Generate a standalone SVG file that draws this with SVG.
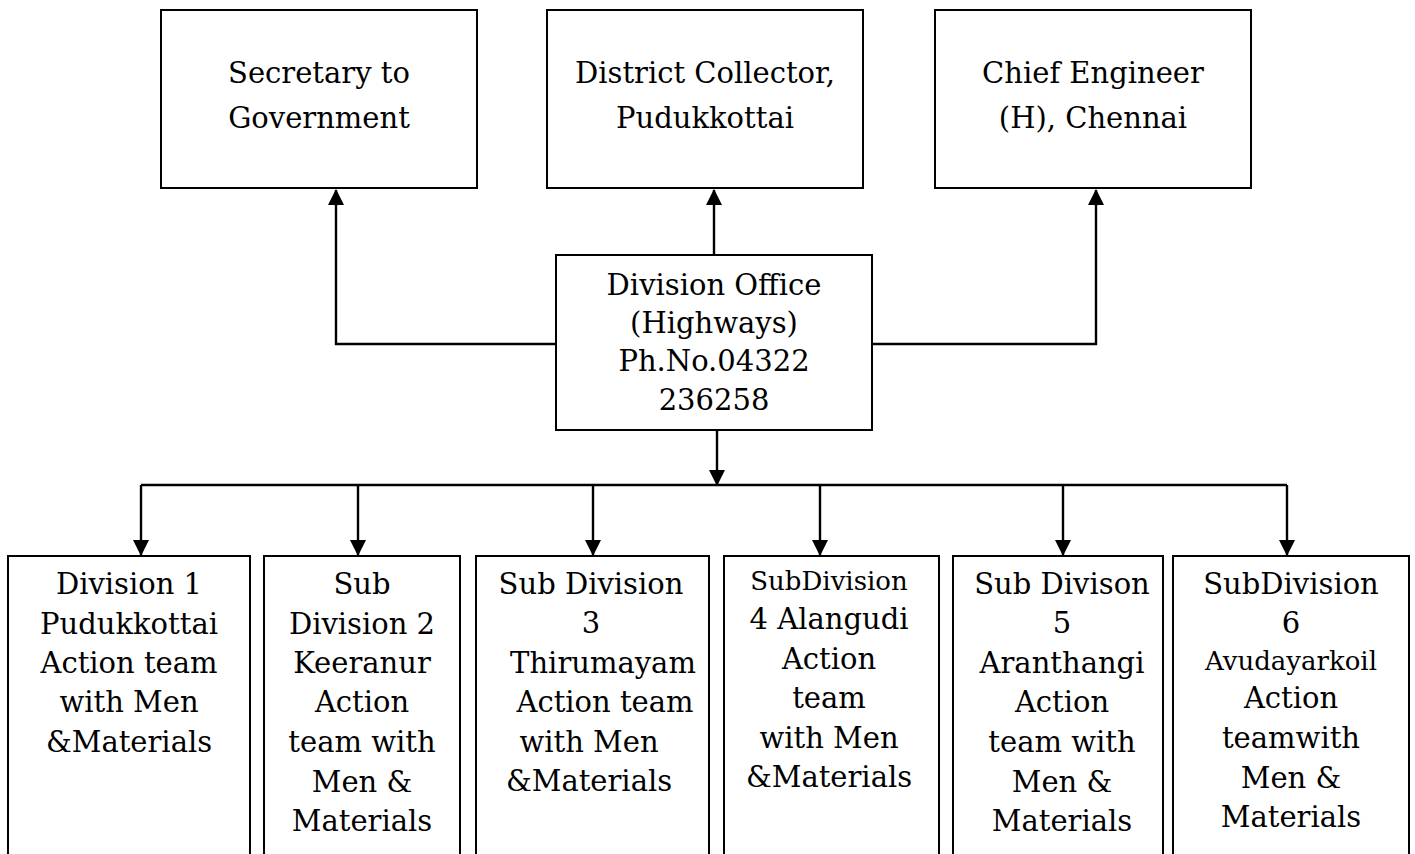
<svg xmlns="http://www.w3.org/2000/svg" width="1415" height="854" viewBox="0 0 1415 854">
<style>
.box{fill:#fff;stroke:#000;stroke-width:2}
.t{font-family:"DejaVu Serif","Liberation Serif",serif;font-size:29px;fill:#000;text-anchor:middle}
.s{font-size:26px}
.c{fill:none;stroke:#000;stroke-width:2.4}
</style>
<defs>
<marker id="ah" markerUnits="userSpaceOnUse" markerWidth="16" markerHeight="16" viewBox="0 0 16 16" refX="15" refY="8" orient="auto">
<path d="M0,0 L16,8 L0,16 Z" fill="#000"/>
</marker>
</defs>
<rect width="1415" height="854" fill="#fff"/>
<g id="connectors">
<path class="c" d="M556,344 H336 V190" marker-end="url(#ah)"/>
<path class="c" d="M714,255 V190" marker-end="url(#ah)"/>
<path class="c" d="M872,344 H1096 V190" marker-end="url(#ah)"/>
<path class="c" d="M717,430 V485" marker-end="url(#ah)"/>
<path class="c" d="M141,485 H1287"/>
<path class="c" d="M141,485 V555" marker-end="url(#ah)"/>
<path class="c" d="M358,485 V555" marker-end="url(#ah)"/>
<path class="c" d="M593,485 V555" marker-end="url(#ah)"/>
<path class="c" d="M820,485 V555" marker-end="url(#ah)"/>
<path class="c" d="M1063,485 V555" marker-end="url(#ah)"/>
<path class="c" d="M1287,485 V555" marker-end="url(#ah)"/>
</g>
<g id="secretary">
<rect class="box" x="161" y="10" width="316" height="178"/>
<text class="t" x="319" y="83">Secretary to</text>
<text class="t" x="319" y="128">Government</text>
</g>
<g id="collector">
<rect class="box" x="547" y="10" width="316" height="178"/>
<text class="t" x="705" y="83">District Collector,</text>
<text class="t" x="705" y="128">Pudukkottai</text>
</g>
<g id="chief-engineer">
<rect class="box" x="935" y="10" width="316" height="178"/>
<text class="t" x="1093" y="83">Chief Engineer</text>
<text class="t" x="1093" y="128">(H), Chennai</text>
</g>
<g id="division-office">
<rect class="box" x="556" y="255" width="316" height="175"/>
<text class="t" x="714" y="295">Division Office</text>
<text class="t" x="714" y="333">(Highways)</text>
<text class="t" x="714" y="371">Ph.No.04322</text>
<text class="t" x="714" y="410">236258</text>
</g>
<g id="division1">
<rect class="box" x="8" y="556" width="242" height="310"/>
<text class="t" x="129" y="594">Division 1</text>
<text class="t" x="129" y="634">Pudukkottai</text>
<text class="t" x="129" y="673">Action team</text>
<text class="t" x="129" y="712">with Men</text>
<text class="t" x="129" y="752">&amp;Materials</text>
</g>
<g id="subdivision2">
<rect class="box" x="264" y="556" width="196" height="310"/>
<text class="t" x="362" y="594">Sub</text>
<text class="t" x="362" y="634">Division 2</text>
<text class="t" x="362" y="673">Keeranur</text>
<text class="t" x="362" y="712">Action</text>
<text class="t" x="362" y="752">team with</text>
<text class="t" x="362" y="792">Men &amp;</text>
<text class="t" x="362" y="831">Materials</text>
</g>
<g id="subdivision3">
<rect class="box" x="476" y="556" width="233" height="310"/>
<text class="t" x="591" y="594">Sub Division</text>
<text class="t" x="591" y="633">3</text>
<text class="t" x="603" y="673">Thirumayam</text>
<text class="t" x="605" y="712">Action team</text>
<text class="t" x="589" y="752">with Men</text>
<text class="t" x="589" y="791">&amp;Materials</text>
</g>
<g id="subdivision4">
<rect class="box" x="724" y="556" width="215" height="310"/>
<text class="t s" x="829" y="590">SubDivision</text>
<text class="t" x="829" y="629">4 Alangudi</text>
<text class="t" x="829" y="669">Action</text>
<text class="t" x="829" y="708">team</text>
<text class="t" x="829" y="748">with Men</text>
<text class="t" x="829" y="787">&amp;Materials</text>
</g>
<g id="subdivision5">
<rect class="box" x="953" y="556" width="210" height="310"/>
<text class="t" x="1062" y="594">Sub Divison</text>
<text class="t" x="1062" y="633">5</text>
<text class="t" x="1062" y="673">Aranthangi</text>
<text class="t" x="1062" y="712">Action</text>
<text class="t" x="1062" y="752">team with</text>
<text class="t" x="1062" y="792">Men &amp;</text>
<text class="t" x="1062" y="831">Materials</text>
</g>
<g id="subdivision6">
<rect class="box" x="1173" y="556" width="236" height="310"/>
<text class="t" x="1291" y="594">SubDivision</text>
<text class="t" x="1291" y="633">6</text>
<text class="t s" x="1291" y="670">Avudayarkoil</text>
<text class="t" x="1291" y="708">Action</text>
<text class="t" x="1291" y="748">teamwith</text>
<text class="t" x="1291" y="788">Men &amp;</text>
<text class="t" x="1291" y="827">Materials</text>
</g>
</svg>
